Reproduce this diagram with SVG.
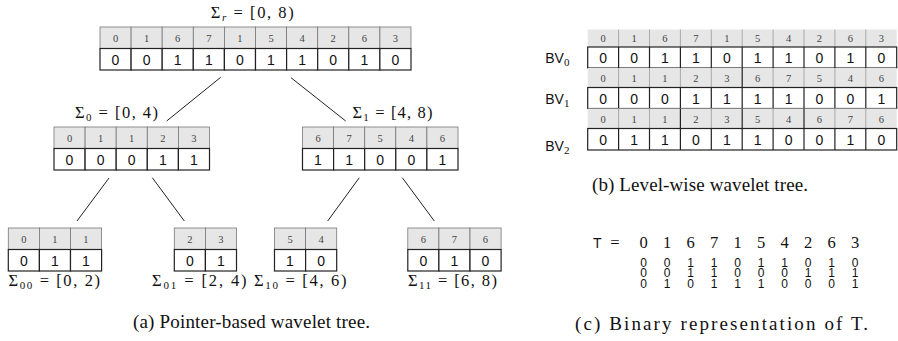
<svg xmlns="http://www.w3.org/2000/svg" width="898" height="341" viewBox="0 0 898 341">
<style>
.hd{fill:#e6e6e6;stroke:#777;stroke-width:0.8}
.vl{fill:#fff;stroke:#222;stroke-width:1.2}
.ht{font-family:"Liberation Serif","DejaVu Serif",serif;font-size:10.5px;fill:#444;text-anchor:middle}
.vt{font-family:"Liberation Sans","DejaVu Sans",sans-serif;font-size:14px;fill:#111;text-anchor:middle}
.lab{font-family:"Liberation Serif","DejaVu Serif",serif;font-size:16.5px;fill:#111}
.cap{font-family:"Liberation Serif","DejaVu Serif",serif;font-size:19px;fill:#111}
.sub{font-size:11px}
.bv{font-family:"Liberation Sans","DejaVu Sans",sans-serif;font-size:14px;fill:#111}
.dk{stroke:#222;stroke-width:1.2}
.tb{font-family:"Liberation Sans","DejaVu Sans",sans-serif;font-size:12px;fill:#111;text-anchor:middle}
.ts{font-family:"Liberation Serif","DejaVu Serif",serif;font-size:16.5px;fill:#111;text-anchor:middle}
</style>
<defs>
<g id="h"><rect class="hd" x="0" y="0" width="31.1" height="21.5"/></g>
<g id="v"><rect class="vl" x="0" y="21.5" width="31.1" height="21.5"/></g>
</defs>

<g id="connectors" stroke="#222" stroke-width="1" fill="none">
<line x1="220.7" y1="77.3" x2="166.7" y2="121"/>
<line x1="291" y1="77.7" x2="345.7" y2="121"/>
<line x1="109" y1="178" x2="77" y2="221"/>
<line x1="152.3" y1="177.7" x2="184.3" y2="221"/>
<line x1="359.3" y1="177.7" x2="327.7" y2="221"/>
<line x1="402.3" y1="177.7" x2="434.3" y2="221"/>
</g>

<g id="node-root">
<text class="lab" x="210.7" y="17.5" textLength="83" lengthAdjust="spacing">Σ<tspan class="sub" font-style="italic" dy="3">r</tspan><tspan dy="-3"> = [0, 8)</tspan></text>
<g transform="translate(100,27)">
<use href="#h" x="0"/><use href="#h" x="31.1"/><use href="#h" x="62.2"/><use href="#h" x="93.3"/><use href="#h" x="124.4"/><use href="#h" x="155.5"/><use href="#h" x="186.6"/><use href="#h" x="217.7"/><use href="#h" x="248.8"/><use href="#h" x="279.9"/>
<use href="#v" x="0"/><use href="#v" x="31.1"/><use href="#v" x="62.2"/><use href="#v" x="93.3"/><use href="#v" x="124.4"/><use href="#v" x="155.5"/><use href="#v" x="186.6"/><use href="#v" x="217.7"/><use href="#v" x="248.8"/><use href="#v" x="279.9"/>
<text class="ht" y="15"><tspan x="15.5">0</tspan><tspan x="46.6">1</tspan><tspan x="77.7">6</tspan><tspan x="108.8">7</tspan><tspan x="139.9">1</tspan><tspan x="171">5</tspan><tspan x="202.1">4</tspan><tspan x="233.2">2</tspan><tspan x="264.3">6</tspan><tspan x="295.4">3</tspan></text>
<text class="vt" y="37.5"><tspan x="15.5">0</tspan><tspan x="46.6">0</tspan><tspan x="77.7">1</tspan><tspan x="108.8">1</tspan><tspan x="139.9">0</tspan><tspan x="171">1</tspan><tspan x="202.1">1</tspan><tspan x="233.2">0</tspan><tspan x="264.3">1</tspan><tspan x="295.4">0</tspan></text>
</g>
</g>

<g id="node-0">
<text class="lab" x="75" y="118" textLength="83" lengthAdjust="spacing">Σ<tspan class="sub" dy="3">0</tspan><tspan dy="-3"> = [0, 4)</tspan></text>
<g transform="translate(54,127)">
<use href="#h" x="0"/><use href="#h" x="31.1"/><use href="#h" x="62.2"/><use href="#h" x="93.3"/><use href="#h" x="124.4"/>
<use href="#v" x="0"/><use href="#v" x="31.1"/><use href="#v" x="62.2"/><use href="#v" x="93.3"/><use href="#v" x="124.4"/>
<text class="ht" y="15"><tspan x="15.5">0</tspan><tspan x="46.6">1</tspan><tspan x="77.7">1</tspan><tspan x="108.8">2</tspan><tspan x="139.9">3</tspan></text>
<text class="vt" y="37.5"><tspan x="15.5">0</tspan><tspan x="46.6">0</tspan><tspan x="77.7">0</tspan><tspan x="108.8">1</tspan><tspan x="139.9">1</tspan></text>
</g>
</g>

<g id="node-1">
<text class="lab" x="352.5" y="118" textLength="80" lengthAdjust="spacing">Σ<tspan class="sub" dy="3">1</tspan><tspan dy="-3"> = [4, 8)</tspan></text>
<g transform="translate(302.5,127)">
<use href="#h" x="0"/><use href="#h" x="31.1"/><use href="#h" x="62.2"/><use href="#h" x="93.3"/><use href="#h" x="124.4"/>
<use href="#v" x="0"/><use href="#v" x="31.1"/><use href="#v" x="62.2"/><use href="#v" x="93.3"/><use href="#v" x="124.4"/>
<text class="ht" y="15"><tspan x="15.5">6</tspan><tspan x="46.6">7</tspan><tspan x="77.7">5</tspan><tspan x="108.8">4</tspan><tspan x="139.9">6</tspan></text>
<text class="vt" y="37.5"><tspan x="15.5">1</tspan><tspan x="46.6">1</tspan><tspan x="77.7">0</tspan><tspan x="108.8">0</tspan><tspan x="139.9">1</tspan></text>
</g>
</g>

<g id="node-00">
<g transform="translate(8.3,228)">
<use href="#h" x="0"/><use href="#h" x="31.1"/><use href="#h" x="62.2"/>
<use href="#v" x="0"/><use href="#v" x="31.1"/><use href="#v" x="62.2"/>
<text class="ht" y="15"><tspan x="15.5">0</tspan><tspan x="46.6">1</tspan><tspan x="77.7">1</tspan></text>
<text class="vt" y="37.5"><tspan x="15.5">0</tspan><tspan x="46.6">1</tspan><tspan x="77.7">1</tspan></text>
</g>
<text class="lab" x="8.5" y="286" textLength="91.5" lengthAdjust="spacing">Σ<tspan class="sub" dy="3">00</tspan><tspan dy="-3"> = [0, 2)</tspan></text>
</g>

<g id="node-01">
<g transform="translate(174.3,228)">
<use href="#h" x="0"/><use href="#h" x="31.1"/>
<use href="#v" x="0"/><use href="#v" x="31.1"/>
<text class="ht" y="15"><tspan x="15.5">2</tspan><tspan x="46.6">3</tspan></text>
<text class="vt" y="37.5"><tspan x="15.5">0</tspan><tspan x="46.6">1</tspan></text>
</g>
<text class="lab" x="152" y="286" textLength="94.5" lengthAdjust="spacing">Σ<tspan class="sub" dy="3">01</tspan><tspan dy="-3"> = [2, 4)</tspan></text>
</g>

<g id="node-10">
<g transform="translate(274.5,228)">
<use href="#h" x="0"/><use href="#h" x="31.1"/>
<use href="#v" x="0"/><use href="#v" x="31.1"/>
<text class="ht" y="15"><tspan x="15.5">5</tspan><tspan x="46.6">4</tspan></text>
<text class="vt" y="37.5"><tspan x="15.5">1</tspan><tspan x="46.6">0</tspan></text>
</g>
<text class="lab" x="254" y="286" textLength="92.5" lengthAdjust="spacing">Σ<tspan class="sub" dy="3">10</tspan><tspan dy="-3"> = [4, 6)</tspan></text>
</g>

<g id="node-11">
<g transform="translate(407.8,228)">
<use href="#h" x="0"/><use href="#h" x="31.1"/><use href="#h" x="62.2"/>
<use href="#v" x="0"/><use href="#v" x="31.1"/><use href="#v" x="62.2"/>
<text class="ht" y="15"><tspan x="15.5">6</tspan><tspan x="46.6">7</tspan><tspan x="77.7">6</tspan></text>
<text class="vt" y="37.5"><tspan x="15.5">0</tspan><tspan x="46.6">1</tspan><tspan x="77.7">0</tspan></text>
</g>
<text class="lab" x="408" y="286" textLength="89" lengthAdjust="spacing">Σ<tspan class="sub" dy="3">11</tspan><tspan dy="-3"> = [6, 8)</tspan></text>
</g>

<text class="cap" x="133" y="328" textLength="237" lengthAdjust="spacing">(a) Pointer-based wavelet tree.</text>

<g id="levelwise">
<g id="bv0" transform="translate(587.7,29.5)">
<rect x="0" y="0" width="309" height="17.5" fill="#e6e6e6"/>
<g stroke="#999" stroke-width="0.8"><line x1="30.9" y1="0" x2="30.9" y2="17.5"/><line x1="61.8" y1="0" x2="61.8" y2="17.5"/><line x1="92.7" y1="0" x2="92.7" y2="17.5"/><line x1="123.6" y1="0" x2="123.6" y2="17.5"/><line x1="154.5" y1="0" x2="154.5" y2="17.5"/><line x1="185.4" y1="0" x2="185.4" y2="17.5"/><line x1="216.3" y1="0" x2="216.3" y2="17.5"/><line x1="247.2" y1="0" x2="247.2" y2="17.5"/><line x1="278.1" y1="0" x2="278.1" y2="17.5"/></g>
<rect class="vl" x="0" y="17.5" width="309" height="21"/>
<g class="dk"><line x1="30.9" y1="17.5" x2="30.9" y2="38.5"/><line x1="61.8" y1="17.5" x2="61.8" y2="38.5"/><line x1="92.7" y1="17.5" x2="92.7" y2="38.5"/><line x1="123.6" y1="17.5" x2="123.6" y2="38.5"/><line x1="154.5" y1="17.5" x2="154.5" y2="38.5"/><line x1="185.4" y1="17.5" x2="185.4" y2="38.5"/><line x1="216.3" y1="17.5" x2="216.3" y2="38.5"/><line x1="247.2" y1="17.5" x2="247.2" y2="38.5"/><line x1="278.1" y1="17.5" x2="278.1" y2="38.5"/></g>
<text class="ht" y="12.5"><tspan x="15.5">0</tspan><tspan x="46.4">1</tspan><tspan x="77.3">6</tspan><tspan x="108.2">7</tspan><tspan x="139.1">1</tspan><tspan x="170">5</tspan><tspan x="200.9">4</tspan><tspan x="231.8">2</tspan><tspan x="262.7">6</tspan><tspan x="293.6">3</tspan></text>
<text class="vt" y="33.5"><tspan x="15.5">0</tspan><tspan x="46.4">0</tspan><tspan x="77.3">1</tspan><tspan x="108.2">1</tspan><tspan x="139.1">0</tspan><tspan x="170">1</tspan><tspan x="200.9">1</tspan><tspan x="231.8">0</tspan><tspan x="262.7">1</tspan><tspan x="293.6">0</tspan></text>
<text class="bv" x="-42.5" y="33">BV<tspan class="sub" font-family="Liberation Serif, DejaVu Serif, serif" dy="3">0</tspan></text>
</g>
<g id="bv1" transform="translate(587.7,68)">
<rect x="0" y="0" width="309" height="19.5" fill="#e6e6e6"/>
<g stroke="#999" stroke-width="0.8"><line x1="30.9" y1="0" x2="30.9" y2="19.5"/><line x1="61.8" y1="0" x2="61.8" y2="19.5"/><line x1="92.7" y1="0" x2="92.7" y2="19.5"/><line x1="123.6" y1="0" x2="123.6" y2="19.5"/><line x1="185.4" y1="0" x2="185.4" y2="19.5"/><line x1="216.3" y1="0" x2="216.3" y2="19.5"/><line x1="247.2" y1="0" x2="247.2" y2="19.5"/><line x1="278.1" y1="0" x2="278.1" y2="19.5"/></g>
<line class="dk" x1="154.5" y1="0" x2="154.5" y2="19.5"/>
<rect class="vl" x="0" y="19.5" width="309" height="21"/>
<g class="dk"><line x1="30.9" y1="19.5" x2="30.9" y2="40.5"/><line x1="61.8" y1="19.5" x2="61.8" y2="40.5"/><line x1="92.7" y1="19.5" x2="92.7" y2="40.5"/><line x1="123.6" y1="19.5" x2="123.6" y2="40.5"/><line x1="154.5" y1="19.5" x2="154.5" y2="40.5"/><line x1="185.4" y1="19.5" x2="185.4" y2="40.5"/><line x1="216.3" y1="19.5" x2="216.3" y2="40.5"/><line x1="247.2" y1="19.5" x2="247.2" y2="40.5"/><line x1="278.1" y1="19.5" x2="278.1" y2="40.5"/></g>
<text class="ht" y="13.5"><tspan x="15.5">0</tspan><tspan x="46.4">1</tspan><tspan x="77.3">1</tspan><tspan x="108.2">2</tspan><tspan x="139.1">3</tspan><tspan x="170">6</tspan><tspan x="200.9">7</tspan><tspan x="231.8">5</tspan><tspan x="262.7">4</tspan><tspan x="293.6">6</tspan></text>
<text class="vt" y="35.5"><tspan x="15.5">0</tspan><tspan x="46.4">0</tspan><tspan x="77.3">0</tspan><tspan x="108.2">1</tspan><tspan x="139.1">1</tspan><tspan x="170">1</tspan><tspan x="200.9">1</tspan><tspan x="231.8">0</tspan><tspan x="262.7">0</tspan><tspan x="293.6">1</tspan></text>
<text class="bv" x="-42.5" y="36">BV<tspan class="sub" font-family="Liberation Serif, DejaVu Serif, serif" dy="3">1</tspan></text>
</g>
<g id="bv2" transform="translate(587.7,108.5)">
<rect x="0" y="0" width="309" height="20" fill="#e6e6e6"/>
<g stroke="#999" stroke-width="0.8"><line x1="30.9" y1="0" x2="30.9" y2="20"/><line x1="61.8" y1="0" x2="61.8" y2="20"/><line x1="123.6" y1="0" x2="123.6" y2="20"/><line x1="185.4" y1="0" x2="185.4" y2="20"/><line x1="247.2" y1="0" x2="247.2" y2="20"/><line x1="278.1" y1="0" x2="278.1" y2="20"/></g>
<g class="dk"><line x1="92.7" y1="0" x2="92.7" y2="20"/><line x1="154.5" y1="0" x2="154.5" y2="20"/><line x1="216.3" y1="0" x2="216.3" y2="20"/></g>
<rect class="vl" x="0" y="20" width="309" height="21.5"/>
<g class="dk"><line x1="30.9" y1="20" x2="30.9" y2="41.5"/><line x1="61.8" y1="20" x2="61.8" y2="41.5"/><line x1="92.7" y1="20" x2="92.7" y2="41.5"/><line x1="123.6" y1="20" x2="123.6" y2="41.5"/><line x1="154.5" y1="20" x2="154.5" y2="41.5"/><line x1="185.4" y1="20" x2="185.4" y2="41.5"/><line x1="216.3" y1="20" x2="216.3" y2="41.5"/><line x1="247.2" y1="20" x2="247.2" y2="41.5"/><line x1="278.1" y1="20" x2="278.1" y2="41.5"/></g>
<text class="ht" y="14"><tspan x="15.5">0</tspan><tspan x="46.4">1</tspan><tspan x="77.3">1</tspan><tspan x="108.2">2</tspan><tspan x="139.1">3</tspan><tspan x="170">5</tspan><tspan x="200.9">4</tspan><tspan x="231.8">6</tspan><tspan x="262.7">7</tspan><tspan x="293.6">6</tspan></text>
<text class="vt" y="36"><tspan x="15.5">0</tspan><tspan x="46.4">1</tspan><tspan x="77.3">1</tspan><tspan x="108.2">0</tspan><tspan x="139.1">1</tspan><tspan x="170">1</tspan><tspan x="200.9">0</tspan><tspan x="231.8">0</tspan><tspan x="262.7">1</tspan><tspan x="293.6">0</tspan></text>
<text class="bv" x="-42.5" y="42">BV<tspan class="sub" font-family="Liberation Serif, DejaVu Serif, serif" dy="3">2</tspan></text>
</g>
</g>
<text class="cap" x="592" y="191" textLength="216" lengthAdjust="spacing">(b) Level-wise wavelet tree.</text>

<g id="binary">
<text class="bv" x="593" y="248" font-size="16.5">T</text>
<text class="ts" x="615" y="248">=</text>
<text class="ts" y="248"><tspan x="643.5">0</tspan><tspan x="667">1</tspan><tspan x="690.5">6</tspan><tspan x="714">7</tspan><tspan x="737.5">1</tspan><tspan x="761">5</tspan><tspan x="784.5">4</tspan><tspan x="808">2</tspan><tspan x="831.5">6</tspan><tspan x="855">3</tspan></text>
<text class="tb" y="266.5"><tspan x="643.5">0</tspan><tspan x="667">0</tspan><tspan x="690.5">1</tspan><tspan x="714">1</tspan><tspan x="737.5">0</tspan><tspan x="761">1</tspan><tspan x="784.5">1</tspan><tspan x="808">0</tspan><tspan x="831.5">1</tspan><tspan x="855">0</tspan></text>
<text class="tb" y="277"><tspan x="643.5">0</tspan><tspan x="667">0</tspan><tspan x="690.5">1</tspan><tspan x="714">1</tspan><tspan x="737.5">0</tspan><tspan x="761">0</tspan><tspan x="784.5">0</tspan><tspan x="808">1</tspan><tspan x="831.5">1</tspan><tspan x="855">1</tspan></text>
<text class="tb" y="287.5"><tspan x="643.5">0</tspan><tspan x="667">1</tspan><tspan x="690.5">0</tspan><tspan x="714">1</tspan><tspan x="737.5">1</tspan><tspan x="761">1</tspan><tspan x="784.5">0</tspan><tspan x="808">0</tspan><tspan x="831.5">0</tspan><tspan x="855">1</tspan></text>
</g>
<text class="cap" x="575" y="330" font-size="21" textLength="293" lengthAdjust="spacing">(c) Binary representation of T.</text>
</svg>
